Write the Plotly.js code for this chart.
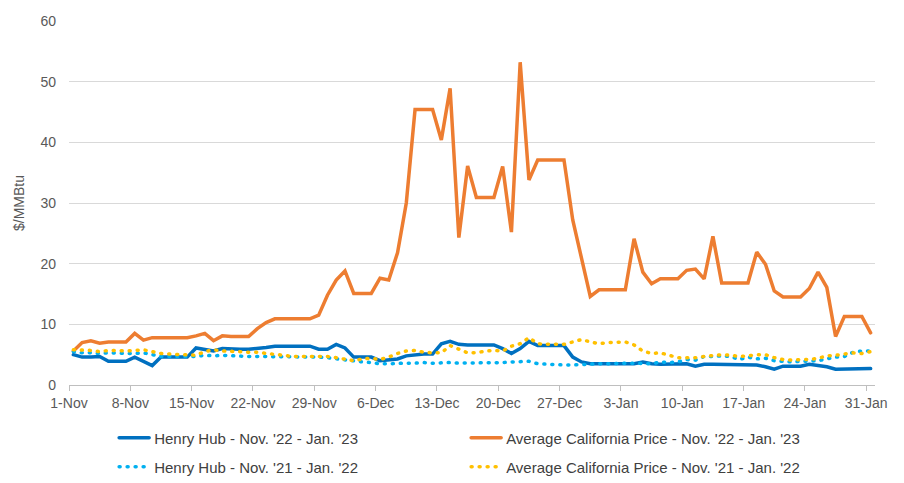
<!DOCTYPE html>
<html>
<head>
<meta charset="utf-8">
<script src="https://cdn.plot.ly/plotly-3.0.1.min.js"></script>
<style>
  html, body { margin: 0; padding: 0; background: #fff; }
  #chart { width: 904px; height: 483px; }
  path.js-line { stroke-linecap: round; }
</style>
</head>
<body>
<div id="chart"></div>
<script>
// Daily series, 1-Nov through 31-Jan (92 days)
const startDate = [2022, 10, 1]; // 1-Nov (month index 10)
const dayCount = 92;

const tickLabels = ["1-Nov", "8-Nov", "15-Nov", "22-Nov", "29-Nov", "6-Dec", "13-Dec",
  "20-Dec", "27-Dec", "3-Jan", "10-Jan", "17-Jan", "24-Jan", "31-Jan"];

const henryHub2223 = [5.0, 4.6, 4.6, 4.7, 3.9, 3.9, 3.9, 4.6, 3.9, 3.2,
  4.6, 4.6, 4.6, 4.6, 6.1, 5.8, 5.6, 6.0, 5.9, 5.9,
  5.9, 6.0, 6.2, 6.4, 6.4, 6.4, 6.4, 6.4, 5.9, 5.9,
  6.7, 6.1, 4.6, 4.6, 4.6, 4.0, 4.2, 4.3, 4.8, 5.0,
  5.1, 5.1, 6.8, 7.2, 6.7, 6.6, 6.6, 6.6, 6.6, 6.0,
  5.2, 6.0, 7.2, 6.5, 6.5, 6.5, 6.5, 4.6, 3.8, 3.5,
  3.5, 3.5, 3.5, 3.5, 3.5, 3.8, 3.5, 3.4, 3.4, 3.4,
  3.5, 3.1, 3.4, 3.4, 3.4, 3.3, 3.3, 3.3, 3.3, 3.0,
  2.6, 3.1, 3.1, 3.1, 3.4, 3.2, 3.0, 2.6, 2.6, 2.6,
  2.6, 2.7];

const california2223 = [5.6, 7.0, 7.3, 6.9, 7.1, 7.1, 7.1, 8.5, 7.4, 7.8,
  7.8, 7.8, 7.8, 7.8, 8.1, 8.5, 7.3, 8.1, 8.0, 8.0,
  8.0, 9.3, 10.3, 10.9, 10.9, 10.9, 10.9, 10.9, 11.5, 14.8,
  17.3, 18.8, 15.1, 15.1, 15.1, 17.6, 17.3, 21.8, 30.0, 45.4,
  45.4, 45.4, 40.4, 48.9, 24.3, 36.1, 30.9, 30.9, 30.9, 36.0,
  25.2, 53.2, 33.8, 37.1, 37.1, 37.1, 37.1, 27.2, 21.0, 14.6,
  15.7, 15.7, 15.7, 15.7, 24.1, 18.6, 16.7, 17.5, 17.5, 17.5,
  18.9, 19.1, 17.5, 24.5, 16.8, 16.8, 16.8, 16.8, 21.9, 19.9,
  15.5, 14.5, 14.5, 14.5, 15.9, 18.6, 16.1, 8.0, 11.3, 11.3,
  11.3, 8.6];

const henryHub2122 = [5.5, 5.3, 5.3, 5.2, 5.3, 5.2, 5.2, 5.2, 5.3, 5.0,
  4.7, 4.7, 4.7, 4.7, 4.7, 4.9, 4.8, 4.9, 4.8, 4.8,
  4.7, 4.7, 4.7, 4.6, 4.6, 4.6, 4.6, 4.6, 4.6, 4.5,
  4.3, 4.1, 3.9, 3.8, 3.7, 3.5, 3.5, 3.6, 3.6, 3.6,
  3.7, 3.6, 3.7, 3.7, 3.6, 3.6, 3.6, 3.6, 3.7, 3.7,
  3.8, 3.9, 3.9, 3.5, 3.4, 3.4, 3.3, 3.3, 3.4, 3.4,
  3.5, 3.5, 3.6, 3.6, 3.6, 3.6, 3.5, 3.8, 3.7, 3.8,
  4.2, 4.1, 4.7, 4.7, 4.8, 4.7, 4.2, 4.6, 4.3, 4.4,
  4.0, 3.9, 3.8, 3.9, 3.9, 4.0, 4.3, 4.6, 4.7, 5.4,
  5.6, 5.6];

const california2122 = [5.8, 5.8, 5.7, 5.5, 5.7, 5.7, 5.6, 5.7, 5.8, 5.5,
  5.2, 5.1, 5.0, 4.9, 4.9, 5.5, 5.8, 5.6, 5.6, 5.5,
  5.4, 5.4, 5.2, 5.1, 4.9, 4.7, 4.7, 4.7, 4.7, 4.7,
  4.5, 4.2, 4.0, 4.3, 4.4, 4.2, 4.6, 5.2, 5.6, 5.7,
  5.4, 5.3, 5.3, 6.5, 5.9, 5.3, 5.3, 5.6, 5.7, 5.6,
  6.4, 6.8, 7.8, 6.8, 6.7, 6.7, 6.7, 7.1, 7.5, 7.1,
  6.8, 7.0, 7.1, 7.1, 6.6, 5.6, 5.2, 5.3, 4.9, 4.5,
  4.5, 4.5, 4.7, 4.9, 5.0, 4.9, 4.7, 4.8, 5.0, 5.0,
  4.5, 4.2, 4.1, 4.2, 4.2, 4.4, 4.8, 4.9, 5.1, 5.3,
  5.2, 5.5];

const seriesNames = ["Henry Hub - Nov. '22 - Jan. '23", "Average California Price - Nov. '22 - Jan. '23",
  "Henry Hub - Nov. '21 - Jan. '22", "Average California Price - Nov. '21 - Jan. '22"];

function isoDay(offset, hour) {
  const d = new Date(Date.UTC(startDate[0], startDate[1], startDate[2] + offset, hour));
  return d.toISOString().slice(0, 19).replace('T', ' ');
}
// each daily value is centred within its day slot
const days = [];
for (let i = 0; i < dayCount; i++) days.push(isoDay(i, 12));
const tickDates = tickLabels.map((_, k) => isoDay(7 * k, 0));

const traces = [
  { x: days, y: henryHub2223, name: seriesNames[0], type: 'scatter', mode: 'lines',
    line: { color: '#0070C0', width: 3.5 }, legend: 'legend' },
  { x: days, y: california2223, name: seriesNames[1], type: 'scatter', mode: 'lines',
    line: { color: '#ED7D31', width: 3.5 }, legend: 'legend' },
  { x: days, y: henryHub2122, name: seriesNames[2], type: 'scatter', mode: 'lines',
    line: { color: '#00B0F0', width: 3.5, dash: '1px,7px' }, legend: 'legend2' },
  { x: days, y: california2122, name: seriesNames[3], type: 'scatter', mode: 'lines',
    line: { color: '#FFC000', width: 3.5, dash: '1px,7px' }, legend: 'legend2' }
];

const font = { family: 'Liberation Sans, Arial, sans-serif', color: '#595959', size: 14 };
const legendCommon = {
  orientation: 'h', xanchor: 'left', yanchor: 'middle', x: 0.056,
  entrywidth: 307, entrywidthmode: 'pixels',
  font: { family: 'Liberation Sans, Arial, sans-serif', color: '#404040', size: 15 },
  bgcolor: 'rgba(0,0,0,0)', traceorder: 'normal'
};

const layout = {
  width: 904, height: 483,
  margin: { l: 69, r: 29, t: 21, b: 98, autoexpand: false },
  paper_bgcolor: '#ffffff', plot_bgcolor: '#ffffff',
  font: font,
  showlegend: true,
  xaxis: {
    type: 'date',
    range: [isoDay(0, 0), isoDay(dayCount, 0)],
    tickmode: 'array', tickvals: tickDates, ticktext: tickLabels,
    showgrid: false, zeroline: false,
    showline: true, linecolor: '#BFBFBF', linewidth: 1,
    ticks: 'outside', ticklen: 5, tickcolor: '#BFBFBF', tickwidth: 1,
    tickfont: { size: 14, color: '#595959' },
    fixedrange: true
  },
  yaxis: {
    range: [0, 60], dtick: 10, tick0: 0,
    showgrid: true, gridcolor: '#D9D9D9', gridwidth: 1,
    zeroline: false, showline: false, ticks: '',
    ticklabelstandoff: 12,
    tickfont: { size: 14, color: '#595959' },
    title: { text: '$/MMBtu', font: { size: 14, color: '#595959' }, standoff: 12 },
    fixedrange: true
  },
  legend: Object.assign({}, legendCommon, { y: -0.1456 }),
  legend2: Object.assign({}, legendCommon, { y: -0.2253 })
};

Plotly.newPlot('chart', traces, layout, { displayModeBar: false, staticPlot: true });
</script>
</body>
</html>
